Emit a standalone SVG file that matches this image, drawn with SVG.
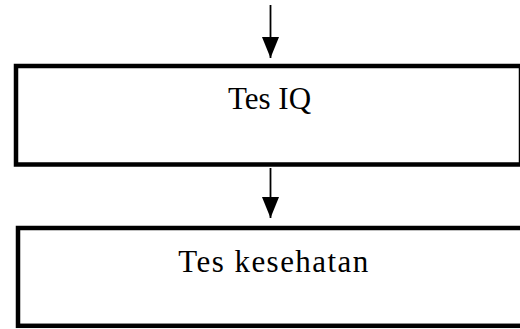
<svg xmlns="http://www.w3.org/2000/svg" width="520" height="329" viewBox="0 0 520 329">
  <style>
    .box { fill: #ffffff; stroke: #000000; stroke-width: 4.5; }
    .lbl { font-family: "Liberation Serif", "DejaVu Serif", serif; font-size: 31px; fill: #000000; text-anchor: middle; }
    .conn { stroke: #000000; stroke-width: 1.8; fill: none; marker-end: url(#arrow); }
  </style>
  <defs>
    <marker id="arrow" viewBox="0 0 21 17" refX="21" refY="8.5" markerWidth="21" markerHeight="17" markerUnits="userSpaceOnUse" orient="auto">
      <path d="M0,0 L21,8.5 L0,17 z" fill="#000000"/>
    </marker>
  </defs>
  <rect width="520" height="329" fill="#ffffff"/>
  <g id="connectors">
    <line class="conn" x1="270.5" y1="5" x2="270.5" y2="58"/>
    <line class="conn" x1="270.5" y1="168" x2="270.5" y2="218"/>
  </g>
  <g id="node-tes-iq">
    <rect class="box" x="16" y="66" width="505" height="98.5"/>
    <text class="lbl" x="269.5" y="108.5">Tes IQ</text>
  </g>
  <g id="node-tes-kesehatan">
    <rect class="box" x="18" y="228" width="510" height="97.8"/>
    <text class="lbl" x="273.3" y="272" textLength="190" lengthAdjust="spacing">Tes kesehatan</text>
  </g>
</svg>
